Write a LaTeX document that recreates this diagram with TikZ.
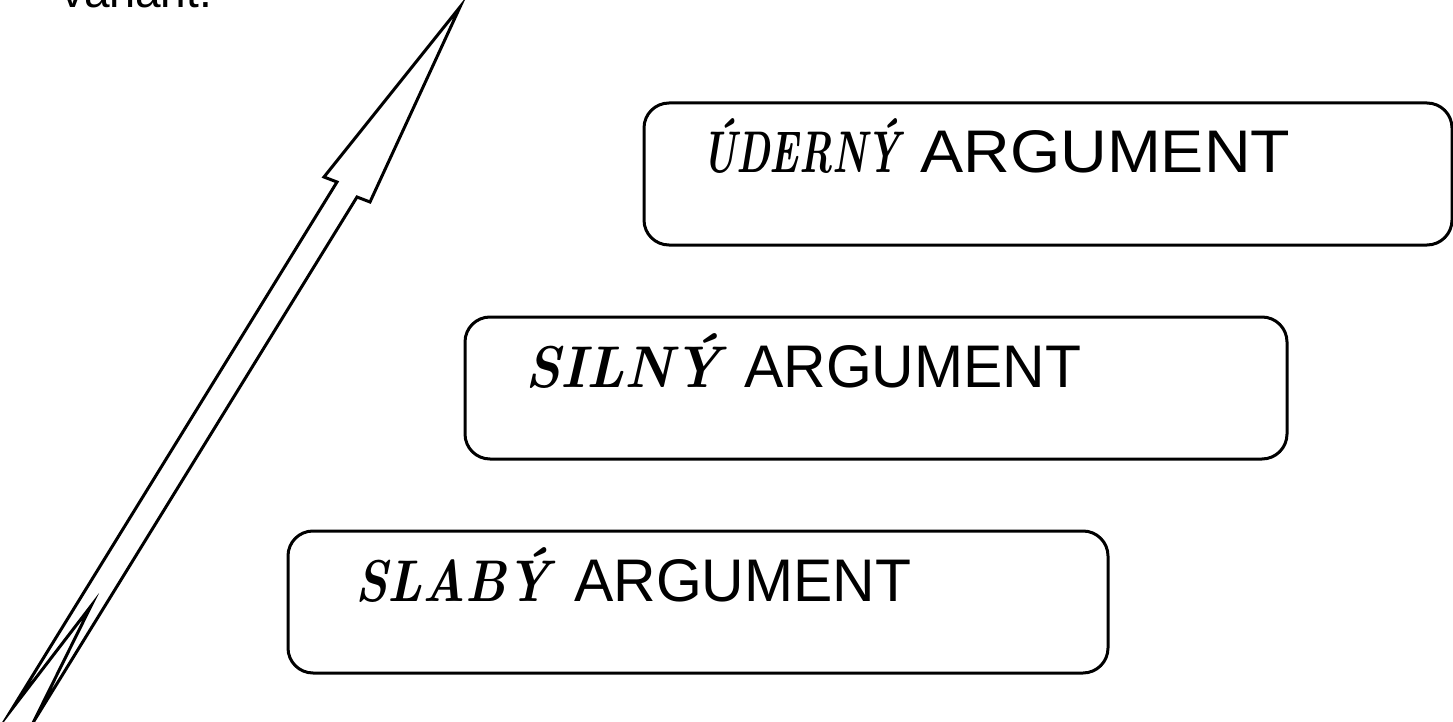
\documentclass[tikz,border=0pt]{standalone}
\usepackage{fontspec}
\setmainfont{Liberation Sans}
\newfontfamily\lmitalic{Latin Modern Roman}
\tikzset{
  argbox/.style={draw=black, line width=3pt, rounded corners=25pt, minimum height=142pt, inner sep=0pt, fill=white},
  argtext/.style={anchor=base west, inner sep=0pt, font=\fontsize{58}{60}\selectfont},
  arrowline/.style={draw=black, line width=3pt, line join=miter, miter limit=30, fill=white}
}
\begin{document}
\begin{tikzpicture}[x=1pt, y=-1pt]
\useasboundingbox (0,0) rectangle (1453,722);
% cut-off text at the top
\node[anchor=base west, inner sep=0pt, font=\fontsize{46}{50}\selectfont] (variant) at (61,8) {variant.};
% arrow
\draw[arrowline] (460,7) -- (370,202) -- (357,197) -- (34,721) -- (91,606) -- (12,709) -- (337,182) -- (324,177) -- cycle;
% boxes
\node[argbox, minimum width=808pt] (b1) at (1048,174) {};
\node[argbox, minimum width=822pt] (b2) at (876,388) {};
\node[argbox, minimum width=820pt] (b3) at (698,602) {};
% labels
\node[argtext] (t1) at (702,173) {\resizebox{198pt}{54pt}{\lmitalic\bfseries\itshape ÚDERNÝ}\hspace{20pt}\resizebox{370pt}{42pt}{ARGUMENT}};
\node[argtext] (t2) at (525,387) {\resizebox{195pt}{54pt}{\lmitalic\bfseries\itshape SILNÝ}\hspace{24pt}\resizebox{337pt}{42pt}{ARGUMENT}};
\node[argtext] (t3) at (355,601) {\resizebox{195pt}{54pt}{\lmitalic\bfseries\itshape SLABÝ}\hspace{24pt}\resizebox{337pt}{42pt}{ARGUMENT}};
\end{tikzpicture}
\end{document}
